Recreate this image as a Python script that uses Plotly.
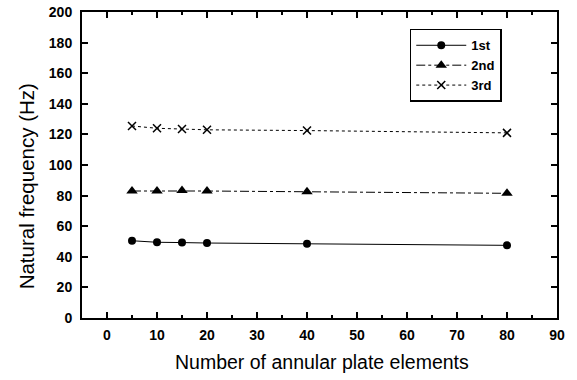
import plotly.graph_objects as go

elements = [5, 10, 15, 20, 40, 80]
freq_1st = [50.5, 49.5, 49.3, 49.0, 48.5, 47.5]
freq_2nd = [83.0, 83.0, 83.3, 83.0, 82.5, 81.5]
freq_3rd = [125.5, 124.0, 123.5, 123.0, 122.5, 121.0]
x_ticks = [0, 10, 20, 30, 40, 50, 60, 70, 80, 90]
y_ticks = [0, 20, 40, 60, 80, 100, 120, 140, 160, 180, 200]
x_title = "Number of annular plate elements"
y_title = "Natural frequency (Hz)"

font_fam = "Liberation Sans, Arial, sans-serif"

fig = go.Figure()
fig.add_trace(go.Scatter(x=elements, y=freq_1st, name="1st", mode="lines+markers",
                         line=dict(color="black", width=1, dash="solid"),
                         marker=dict(symbol="circle", size=8, color="black")))
fig.add_trace(go.Scatter(x=elements, y=freq_2nd, name="2nd", mode="lines+markers",
                         line=dict(color="black", width=1, dash="dashdot"),
                         marker=dict(symbol="triangle-up", size=10, color="black")))
fig.add_trace(go.Scatter(x=elements, y=freq_3rd, name="3rd", mode="lines+markers",
                         line=dict(color="black", width=1, dash="dot"),
                         marker=dict(symbol="x-thin", size=8, color="black",
                                     line=dict(color="black", width=1.5))))

fig.update_layout(
    width=577, height=380,
    margin=dict(l=82, r=20, t=12, b=62),
    paper_bgcolor="white", plot_bgcolor="white",
    font=dict(family=font_fam, color="black"),
    showlegend=True,
    legend=dict(x=0.69, y=0.945, xanchor="left", yanchor="top",
                bordercolor="black", borderwidth=1.5, bgcolor="white",
                font=dict(size=13, family=font_fam, weight="bold"),
                itemwidth=50, entrywidth=56, tracegroupgap=0),
    xaxis=dict(range=[-5, 90], tickvals=x_ticks, ticks="inside", ticklen=6,
               tickwidth=1.5, tickcolor="black", ticklabelstandoff=3,
               ticklabeloverflow="allow",
               minor=dict(dtick=5, tick0=0, ticks="inside", ticklen=3, tickcolor="black"),
               showline=True, linecolor="black", linewidth=2, mirror="ticks",
               showgrid=False, zeroline=False, automargin=False,
               tickfont=dict(size=14, weight="bold")),
    yaxis=dict(range=[0, 200], tickvals=y_ticks, ticks="inside", ticklen=6,
               tickwidth=1.5, tickcolor="black", ticklabelstandoff=5,
               ticklabeloverflow="allow",
               showline=True, linecolor="black", linewidth=2, mirror="ticks",
               showgrid=False, zeroline=False, automargin=False,
               tickfont=dict(size=14, weight="bold")),
    annotations=[
        dict(text=x_title, xref="paper", yref="paper", x=0.505, y=-0.145,
             xanchor="center", yanchor="middle", showarrow=False,
             font=dict(size=19.5, family=font_fam)),
        dict(text=y_title, xref="paper", yref="paper", x=-0.118, y=0.43,
             xanchor="center", yanchor="middle", textangle=-90, showarrow=False,
             font=dict(size=20.5, family=font_fam)),
    ],
)

fig.write_html("out.html", config={"displayModeBar": False},
               post_script="document.body.style.margin='0';")
